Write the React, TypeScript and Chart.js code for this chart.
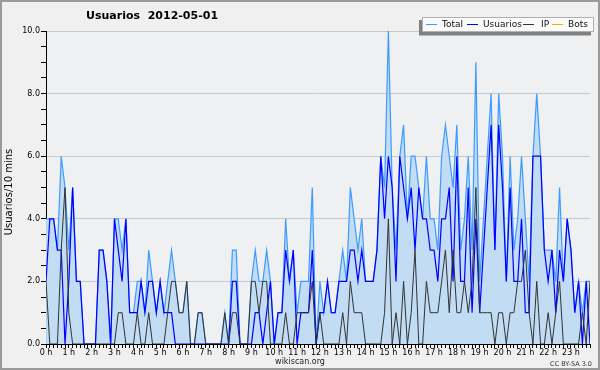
import React, { useEffect, useRef } from 'react';
import { Chart, registerables } from 'chart.js';

Chart.register(...registerables);

const chartTitle = 'Usuarios  2012-05-01';
const yTitle = 'Usuarios/10 mins';
const footerCenter = 'wikiscan.org';
const footerRight = 'CC BY-SA 3.0';

const hourLabels = [
  '0 h', '1 h', '2 h', '3 h', '4 h', '5 h', '6 h', '7 h', '8 h', '9 h', '10 h', '11 h',
  '12 h', '13 h', '14 h', '15 h', '16 h', '17 h', '18 h', '19 h', '20 h', '21 h', '22 h', '23 h',
];

const seriesNames = ['Total', 'Usuarios', 'IP', 'Bots'];
const seriesColors = ['#3d9bff', '#0000ff', '#333333', '#ffa500'];

// one value per 10 minutes (144 slots)
const total = [
  4, 4, 4, 3, 6, 5, 3, 5, 2, 2,
  0, 0, 0, 0, 3, 3, 2, 0, 4, 4,
  3, 4, 1, 1, 2, 2, 1, 3, 2, 1,
  2, 1, 2, 3, 2, 1, 1, 2, 0, 0,
  1, 1, 0, 0, 0, 0, 0, 1, 0, 3,
  3, 0, 0, 0, 2, 3, 2, 2, 3, 2,
  0, 1, 1, 4, 2, 3, 1, 2, 2, 2,
  5, 0, 2, 1, 2, 1, 1, 2, 3, 2,
  5, 4, 3, 4, 2, 2, 2, 3, 6, 5,
  10, 5, 3, 6, 7, 4, 6, 6, 5, 4,
  6, 4, 4, 3, 6, 7, 6, 5, 7, 3,
  4, 6, 3, 9, 2, 4, 6, 8, 3, 8,
  6, 2, 6, 3, 4, 6, 4, 2, 6, 8,
  6, 3, 3, 3, 2, 5, 2, 4, 3, 1,
  2, 1, 2, 2,
];

const usuarios = [
  2, 4, 4, 3, 3, 0, 2, 5, 2, 2,
  0, 0, 0, 0, 3, 3, 2, 0, 4, 3,
  2, 4, 1, 1, 1, 2, 1, 2, 2, 1,
  2, 1, 1, 1, 0, 0, 0, 0, 0, 0,
  0, 0, 0, 0, 0, 0, 0, 0, 0, 2,
  2, 0, 0, 0, 0, 1, 1, 0, 1, 2,
  0, 1, 1, 3, 2, 3, 0, 1, 1, 1,
  3, 0, 1, 1, 2, 1, 1, 2, 2, 2,
  3, 3, 2, 3, 2, 2, 2, 3, 6, 4,
  6, 5, 2, 6, 5, 4, 5, 3, 5, 4,
  4, 3, 3, 2, 4, 4, 5, 2, 6, 2,
  2, 5, 1, 4, 1, 3, 5, 7, 3, 7,
  5, 2, 5, 2, 2, 4, 1, 1, 6, 6,
  6, 3, 2, 3, 1, 3, 2, 4, 3, 1,
  2, 0, 2, 0,
];

const ip = [
  2, 0, 0, 0, 3, 5, 1, 0, 0, 0,
  0, 0, 0, 0, 0, 0, 0, 0, 0, 1,
  1, 0, 0, 0, 1, 0, 0, 1, 0, 0,
  0, 0, 1, 2, 2, 1, 1, 2, 0, 0,
  1, 1, 0, 0, 0, 0, 0, 1, 0, 1,
  1, 0, 0, 0, 2, 2, 1, 2, 2, 0,
  0, 0, 0, 1, 0, 0, 1, 1, 1, 1,
  2, 0, 1, 0, 0, 0, 0, 0, 1, 0,
  2, 1, 1, 1, 0, 0, 0, 0, 0, 1,
  4, 0, 1, 0, 2, 0, 1, 3, 0, 0,
  2, 1, 1, 1, 2, 3, 1, 3, 1, 1,
  2, 1, 2, 5, 1, 1, 1, 1, 0, 1,
  1, 0, 1, 1, 2, 2, 3, 1, 0, 2,
  0, 0, 1, 0, 1, 2, 0, 0, 0, 0,
  0, 1, 0, 2,
];

const bots: number[] = [];

const yTickValues = [0, 2, 4, 6, 8, 10];

const toXY = (arr: number[]) => arr.map((v, i) => ({ x: i, y: v }));

const FONT = "'DejaVu Sans', sans-serif";

const decorPlugin = {
  id: 'decor',
  beforeDraw(chart: any) {
    const { ctx, width, height, chartArea } = chart;
    ctx.save();
    ctx.fillStyle = '#f0f0f0';
    ctx.fillRect(0, 0, width, height);
    ctx.fillStyle = '#eef0f2';
    ctx.fillRect(chartArea.left, chartArea.top, chartArea.right - chartArea.left, chartArea.bottom - chartArea.top);
    ctx.strokeStyle = '#9a9a9a';
    ctx.lineWidth = 2;
    ctx.strokeRect(1, 1, width - 2, height - 2);
    ctx.restore();
  },
  afterDraw(chart: any) {
    const { ctx, width } = chart;
    ctx.save();
    // title
    ctx.fillStyle = '#000';
    ctx.font = `bold 11px ${FONT}`;
    ctx.textBaseline = 'middle';
    ctx.textAlign = 'left';
    ctx.fillText(chartTitle, 86, 16);

    // y title
    ctx.save();
    ctx.translate(9, 192);
    ctx.rotate(-Math.PI / 2);
    ctx.font = `10px ${FONT}`;
    ctx.textAlign = 'center';
    ctx.textBaseline = 'middle';
    ctx.fillStyle = '#000';
    ctx.fillText(yTitle, 0, 0);
    ctx.restore();

    // footer
    ctx.font = `8px ${FONT}`;
    ctx.textAlign = 'center';
    ctx.textBaseline = 'middle';
    ctx.fillStyle = '#222';
    ctx.fillText(footerCenter, width / 2, 362);
    ctx.font = `6.5px ${FONT}`;
    ctx.textAlign = 'right';
    ctx.fillStyle = '#333';
    ctx.fillText(footerRight, 592, 364);

    // legend box with shadow
    ctx.fillStyle = '#808080';
    ctx.fillRect(419, 20, 172, 15.5);
    ctx.fillStyle = '#fafafa';
    ctx.fillRect(422, 17, 172, 15);
    ctx.strokeStyle = '#b0b0b0';
    ctx.lineWidth = 1;
    ctx.strokeRect(422.5, 17.5, 171, 14);

    const lineX = [426, 467, 523, 552];
    const textX = [442, 483, 541, 568];
    ctx.font = `9px ${FONT}`;
    ctx.textAlign = 'left';
    ctx.textBaseline = 'middle';
    seriesNames.forEach((name, k) => {
      ctx.strokeStyle = seriesColors[k];
      ctx.lineWidth = 1;
      ctx.beginPath();
      ctx.moveTo(lineX[k], 24.5);
      ctx.lineTo(lineX[k] + 11, 24.5);
      ctx.stroke();
      ctx.fillStyle = '#111';
      ctx.fillText(name, textX[k], 25);
    });
    ctx.restore();
  },
};

export default function App() {
  const ref = useRef<HTMLCanvasElement | null>(null);

  useEffect(() => {
    if (!ref.current) return;
    Chart.defaults.font.family = FONT;
    const chart = new Chart(ref.current, {
      type: 'line',
      data: {
        datasets: [
          {
            label: seriesNames[0],
            data: toXY(total),
            borderColor: seriesColors[0],
            backgroundColor: 'rgba(190, 218, 242, 0.95)',
            borderWidth: 1.2,
            fill: 'origin',
            pointRadius: 0,
            tension: 0,
            order: 4,
          },
          {
            label: seriesNames[1],
            data: toXY(usuarios),
            borderColor: seriesColors[1],
            borderWidth: 1.2,
            fill: false,
            pointRadius: 0,
            tension: 0,
            order: 3,
          },
          {
            label: seriesNames[2],
            data: toXY(ip),
            borderColor: seriesColors[2],
            borderWidth: 1,
            fill: false,
            pointRadius: 0,
            tension: 0,
            order: 2,
          },
          {
            label: seriesNames[3],
            data: toXY(bots),
            borderColor: seriesColors[3],
            borderWidth: 1,
            fill: false,
            pointRadius: 0,
            order: 1,
          },
        ],
      },
      options: {
        responsive: false,
        animation: false,
        events: [],
        layout: { padding: { top: 31, right: 10, left: 0, bottom: 0 } },
        plugins: {
          legend: { display: false },
          title: { display: false },
          tooltip: { enabled: false },
        },
        scales: {
          x: {
            type: 'linear',
            min: 0,
            max: total.length - 1,
            afterFit: (s: any) => { s.height = 26; },
            border: { color: '#000', width: 1 },
            grid: {
              drawOnChartArea: false,
              tickColor: '#000',
              tickLength: 4,
            },
            ticks: {
              stepSize: 1,
              autoSkip: false,
              maxRotation: 0,
              minRotation: 0,
              padding: 0,
              color: '#000',
              font: { size: 8 },
              callback: (v: any) => (Number(v) % 6 === 0 ? hourLabels[Number(v) / 6] ?? '' : ''),
            },
          },
          y: {
            min: 0,
            max: 10,
            afterFit: (s: any) => { s.width = 46; },
            border: { color: '#000', width: 1 },
            grid: {
              color: (c: any) =>
                c.tick && c.tick.value !== 0 && yTickValues.includes(c.tick.value) ? '#c8c8c8' : 'rgba(0,0,0,0)',
              tickColor: '#000',
              tickLength: 5,
            },
            ticks: {
              stepSize: 0.5,
              autoSkip: false,
              padding: 1,
              color: '#000',
              font: { size: 8 },
              callback: (v: any) => (yTickValues.includes(Number(v)) ? Number(v).toFixed(1) : ''),
            },
          },
        },
      },
      plugins: [decorPlugin],
    });
    return () => chart.destroy();
  }, []);

  return (
    <div style={{ position: 'absolute', left: 0, top: 0, width: 600, height: 370 }}>
      <canvas ref={ref} width={600} height={370} style={{ width: 600, height: 370 }} />
    </div>
  );
}
